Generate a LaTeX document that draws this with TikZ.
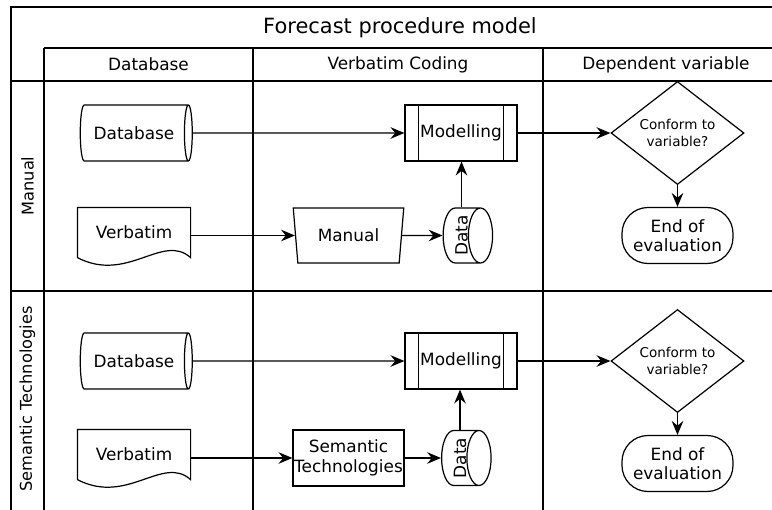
\documentclass[tikz,border=0pt]{standalone}
\usepackage{fontspec}
\setmainfont{DejaVu Sans}
\usetikzlibrary{positioning}
\usetikzlibrary{calc}
\usetikzlibrary{shapes.geometric}
\usetikzlibrary{arrows.meta}
\colorlet{border}{black}
\newcommand\px{0.26mm}
\newcommand\framewidth{790}
\newcommand\framebottom{520}
% wavy bottom of a document box
\newcommand\documentborder[1]{
    \draw[border]
        (#1.south west) -- (#1.north west)
        -- (#1.north east) -- (#1.south east)
        .. controls +(-28, -25) and +(50, 26) .. (#1.south west);
}
% side bars of a predefined process
\newcommand\processbars[1]{
    \draw[border]
        ([xshift=14*\px]#1.north west) -- ([xshift=14*\px]#1.south west);
    \draw[border]
        ([xshift=-14*\px]#1.north east) -- ([xshift=-14*\px]#1.south east);
}

\begin{document}
\begin{tikzpicture}[x=\px, y=-\px, line width=0.9pt, font=\fontsize{12.5}{14.5}\selectfont]
    \useasboundingbox (0, 0) rectangle (772, 510);

    \tikzset{
        store/.style={
            draw=border, cylinder, aspect=0.6,
            minimum width=56*\px, minimum height=112*\px,
            inner sep=0pt,
        },
        stack/.style={
            draw=border, cylinder, aspect=0.6,
            minimum width=55*\px, minimum height=49*\px,
            inner sep=0pt,
        },
        sheet/.style={
            rectangle, minimum width=112*\px, minimum height=49*\px,
            inner sep=0pt,
        },
        process/.style={
            draw=border, rectangle,
            minimum width=112*\px, minimum height=56*\px,
            inner sep=0pt,
        },
        handwork/.style={
            draw=border, trapezium, shape border rotate=180,
            trapezium stretches=true,
            trapezium left angle=78, trapezium right angle=78,
            minimum width=111*\px, minimum height=55*\px,
            inner sep=0pt,
        },
        tool/.style={
            draw=border, rectangle, align=center,
            minimum width=111*\px, minimum height=56*\px,
            inner sep=0pt,
        },
        check/.style={
            draw=border, diamond, align=center,
            minimum width=133*\px, minimum height=66*\px,
            inner sep=0pt, font=\fontsize{10}{12.5}\selectfont,
        },
        stop/.style={
            draw=border, rectangle, rounded corners=26*\px, align=center,
            minimum width=111*\px, minimum height=56*\px,
            inner sep=0pt,
        },
        flow/.style={
            border, -{Stealth[length=3.6mm, width=3mm, inset=1.2mm]},
        },
    }

    % Frame
    \draw[border] (11, 7) rectangle (\framewidth, \framebottom);
    \draw[border] (44, 48) -- (\framewidth, 48);
    \draw[border] (11, 81) -- (\framewidth, 81);
    \draw[border] (11, 291) -- (\framewidth, 291);
    \draw[border] (44, 48) -- (44, \framebottom);
    \draw[border] (253, 48) -- (253, \framebottom);
    \draw[border] (543, 48) -- (543, \framebottom);

    \node (title) at (400, 27.5) {\fontsize{15.5}{18}\selectfont Forecast procedure model};
    \node (head-database) at (148.5, 64.5) {Database};
    \node (head-coding) at (398, 64.5) {Verbatim Coding};
    \node (head-variable) at (666, 64.5) {Dependent variable};

    \node[rotate=90, font=\fontsize{12}{14}\selectfont] (lane-manual) at (27.5, 186) {Manual};
    \node[rotate=90, font=\fontsize{12}{14}\selectfont] (lane-semantic) at (27.5, 399) {Semantic Technologies};

    % Manual lane
    \node[store] (manual-db) at (134, 133) {Database};
    \node[sheet] (manual-verbatim) at (134, 232.5) {Verbatim};
    \documentborder{manual-verbatim}
    \node[handwork] (manual-coding) at (348.5, 235.5) {Manual};
    \node[stack] (manual-data) at (461.5, 235.5) {\rotatebox{90}{Data}};
    \node[process] (manual-model) at (461, 133) {Modelling};
    \processbars{manual-model}
    \node[check] (manual-check) at (677.5, 133) {Conform to\\variable?};
    \node[stop] (manual-end) at (677.5, 235.5) {End of\\evaluation};

    \draw[flow] (manual-db) -- (manual-model);
    \draw[flow] (manual-verbatim.east |- manual-coding.west) -- (manual-coding.west);
    \draw[flow] (manual-coding) -- (manual-data);
    \draw[flow] (manual-data.north) -- (manual-data.north |- manual-model.south);
    \draw[flow] (manual-model) -- (manual-check);
    \draw[flow] (manual-check) -- (manual-end);

    % Semantic lane
    \node[store] (semantic-db) at (134, 361) {Database};
    \node[sheet] (semantic-verbatim) at (134, 454.5) {Verbatim};
    \documentborder{semantic-verbatim}
    \node[tool] (semantic-coding) at (348.5, 458) {Semantic\\Technologies};
    \node[stack] (semantic-data) at (460, 458) {\rotatebox{90}{Data}};
    \node[process] (semantic-model) at (461, 361) {Modelling};
    \processbars{semantic-model}
    \node[check] (semantic-check) at (677.5, 361) {Conform to\\variable?};
    \node[stop] (semantic-end) at (677.5, 463.5) {End of\\evaluation};

    \draw[flow] (semantic-db) -- (semantic-model);
    \draw[flow] (semantic-verbatim.east |- semantic-coding.west) -- (semantic-coding.west);
    \draw[flow] (semantic-coding) -- (semantic-data);
    \draw[flow] (semantic-data.north) -- (semantic-data.north |- semantic-model.south);
    \draw[flow] (semantic-model) -- (semantic-check);
    \draw[flow] (semantic-check) -- (semantic-end);
\end{tikzpicture}
\end{document}
